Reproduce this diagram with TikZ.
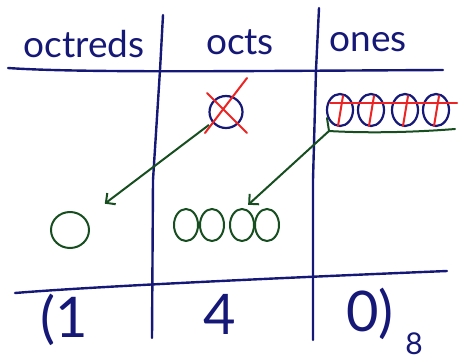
\documentclass[tikz,border=0pt]{standalone}
\usepackage{fontspec}
\setmainfont{Lato}
\usetikzlibrary{positioning, calc, arrows.meta, shapes.geometric}
\definecolor{penblue}{RGB}{22, 24, 120}
\definecolor{pengreen}{RGB}{22, 78, 32}
\definecolor{penred}{RGB}{236, 36, 36}

\begin{document}
\begin{tikzpicture}[
            x=1pt, y=-1pt,
            rule/.style={draw=penblue, line width=2.4pt, line cap=round, line join=round},
            label/.style={text=penblue, font=\fontsize{37}{37}\selectfont, inner sep=0pt},
            digit/.style={text=penblue, font=\fontsize{56}{56}\selectfont, inner sep=0pt},
            ring/.style={ellipse, draw=penblue, line width=2.2pt, inner sep=0pt, minimum width=26pt, minimum height=32pt},
            greenring/.style={ring, draw=pengreen, line width=2pt},
            strike/.style={draw=penred, line width=2pt, line cap=round},
            arrow/.style={-{Straight Barb[length=7pt, width=14pt]}, draw=pengreen, line width=2pt}
        ]
            \useasboundingbox (0,0) rectangle (462,362);

            % table rules
            \draw [rule] (8,68) .. controls (80,73) and (240,71) .. (443,70);
            \draw [rule] (15,293) .. controls (100,286) and (300,277) .. (447,271);
            \draw [rule] (163,15) -- (160,70) -- (153,180) -- (152,338);
            \draw [rule] (319,8) -- (316,70) -- (313,180) -- (313,340);

            % headings
            \node[label] (octreds) at (84,44) {octreds};
            \node[label] (octs) at (240,42) {octs};
            \node[label] (ones) at (368,42) {ones};

            % crossed out circles
            \node[ring, minimum width=33pt, minimum height=32pt] (octcircle) at (226,112) {};
            \draw [strike] (247,78) -- (205,133);
            \draw [strike] (207,93) -- (247,133);
            \foreach \x [count=\i] in {340,371,405,436} {
                \node[ring] (one\i) at (\x,110) {};
                \draw [strike] ($(one\i)+(3,-14)$) -- ($(one\i)+(-2,16)$);
            }
            \draw [strike] (330,103) -- (457,103);
            \draw [draw=pengreen, line width=2pt, line cap=round] (327,118) -- (329,131) .. controls (380,134) and (430,131) .. (455,129);
            \coordinate (bundle) at (329,131);

            % regrouped circles
            \node[greenring, minimum width=38pt, minimum height=36pt] (octredring) at (70,230) {};
            \foreach \x [count=\i] in {186,212,242,267} {
                \node[greenring, minimum width=24pt] (oct\i) at (\x,225) {};
            }
            \coordinate (octgroup) at (226,225);

            \draw [arrow, shorten <=4pt, shorten >=24pt] (octcircle) -- (octredring);
            \draw [arrow, shorten >=30pt] (bundle) -- (octgroup);

            % result
            \node[digit] (hundreds) at (64,320) {(1};
            \node[digit] (eights) at (220,314) {4};
            \node[digit] (units) at (370,314) {0)};
            \node[text=penblue, font=\fontsize{30}{30}\selectfont, inner sep=0pt] (base) at (414,344) {8};
        \end{tikzpicture}
\end{document}
